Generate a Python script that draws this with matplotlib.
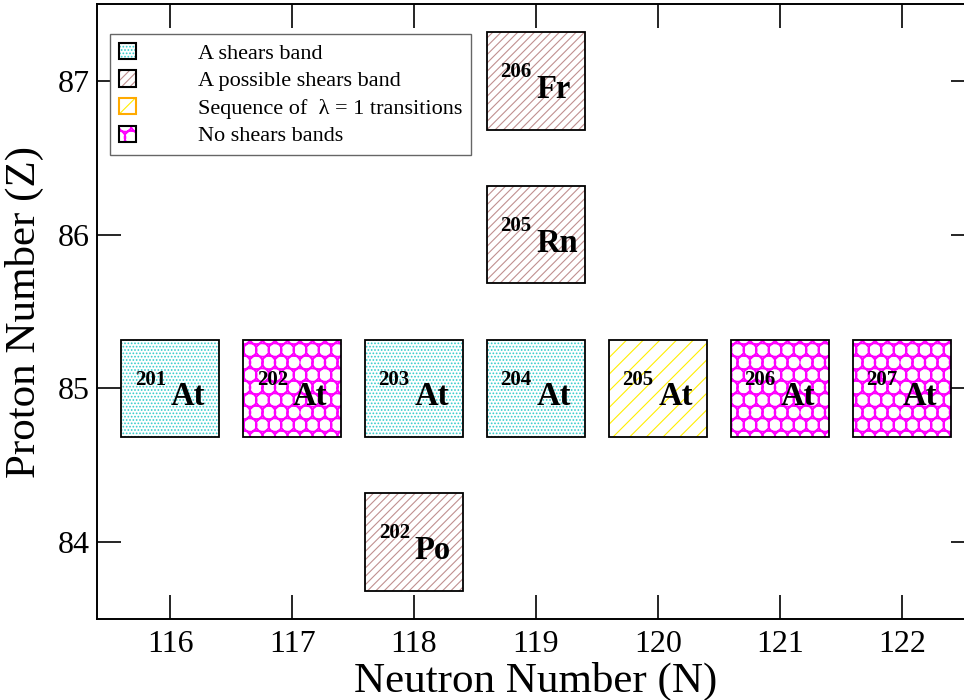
import matplotlib
matplotlib.use("Agg")
import matplotlib.pyplot as plt
import matplotlib.hatch as mhatch
from matplotlib.patches import Rectangle, Patch
from matplotlib.legend_handler import HandlerTuple

plt.rcParams['font.family'] = ['Liberation Serif', 'DejaVu Serif']
plt.rcParams['hatch.linewidth'] = 0.8


class ScaleCircles(mhatch.Circles):
    """Overlapping open circles (fish-scale look) used for the 'O' hatch."""
    def __init__(self, hatch, density):
        self.size = 0.56
        self.filled = False
        self.num_rows = 8 * hatch.count('O')
        super().__init__(hatch, density)


mhatch._hatch_types[mhatch._hatch_types.index(mhatch.LargeCircles)] = ScaleCircles

# data
neutrons = [116, 117, 118, 119, 120, 121, 122, 118, 119, 119]
protons  = [85, 85, 85, 85, 85, 85, 85, 84, 86, 87]
masses   = [201, 202, 203, 204, 205, 206, 207, 202, 205, 206]
elements = ['At', 'At', 'At', 'At', 'At', 'At', 'At', 'Po', 'Rn', 'Fr']
categories = ['shears', 'none', 'shears', 'shears', 'lambda', 'none', 'none',
              'possible', 'possible', 'possible']

legend_labels = ['A shears band', 'A possible shears band',
                 'Sequence of  \u03bb = 1 transitions', 'No shears bands']
legend_keys = ['shears', 'possible', 'lambda', 'none']

styles = {
    'shears':   dict(color='#33cccc', hatch='.....', border='black'),
    'possible': dict(color='#c09090', hatch='////', border='black'),
    'lambda':   dict(color='#ffee00', hatch='//', border='#ffaa00'),
    'none':     dict(color='#ff00ff', hatch='O', border='black'),
}

fig = plt.figure(figsize=(9.64, 7.0), dpi=100)
ax = fig.add_axes([97/964, 81/700, 878/964, 615/700])
ax.set_xlim(115.4, 122.6)
ax.set_ylim(83.5, 87.5)

w, h = 0.8, 0.635
for n, z, a, el, c in zip(neutrons, protons, masses, elements, categories):
    st = styles[c]
    ax.add_patch(Rectangle((n - w/2, z - h/2), w, h, facecolor='white',
                           edgecolor=st['color'], hatch=st['hatch'], lw=0))
    ax.add_patch(Rectangle((n - w/2, z - h/2), w, h, facecolor='none',
                           edgecolor='black', lw=1.3))
    ax.text(n - 0.035, z + 0.025, str(a), ha='right', va='baseline',
            fontsize=15, fontweight='bold')
    ax.text(n + 0.005, z - 0.11, el, ha='left', va='baseline',
            fontsize=23.5, fontweight='bold')

ax.set_xticks(range(116, 123))
ax.set_yticks([84, 85, 86, 87])
ax.tick_params(direction='in', length=17, width=1.2, labelsize=23,
               top=True, right=True)
ax.tick_params(axis='x', pad=8)
ax.tick_params(axis='y', pad=5)
for s in ax.spines.values():
    s.set_linewidth(1.4)

ax.set_xlabel('Neutron Number (N)', fontsize=31, labelpad=2)
ax.set_ylabel('Proton Number (Z)', fontsize=31, labelpad=10)

handles = []
for k in legend_keys:
    st = styles[k]
    hp = Patch(facecolor='white', edgecolor=st['color'], hatch=st['hatch'], lw=0)
    bp = Patch(facecolor='none', edgecolor=st['border'], lw=1.5)
    handles.append((hp, bp))
leg = ax.legend(handles, legend_labels,
                handler_map={tuple: HandlerTuple(ndivide=1, pad=0)},
                loc='upper left', bbox_to_anchor=(110/964, 1 - 34/700),
                bbox_transform=fig.transFigure,
                fontsize=16, handlelength=0.75, handleheight=0.75,
                handletextpad=2.8, labelspacing=0.3, borderpad=0.4,
                borderaxespad=0, fancybox=False, edgecolor='#666666',
                framealpha=1)
leg.get_frame().set_linewidth(1.0)

fig.savefig('out.png', dpi=100)
